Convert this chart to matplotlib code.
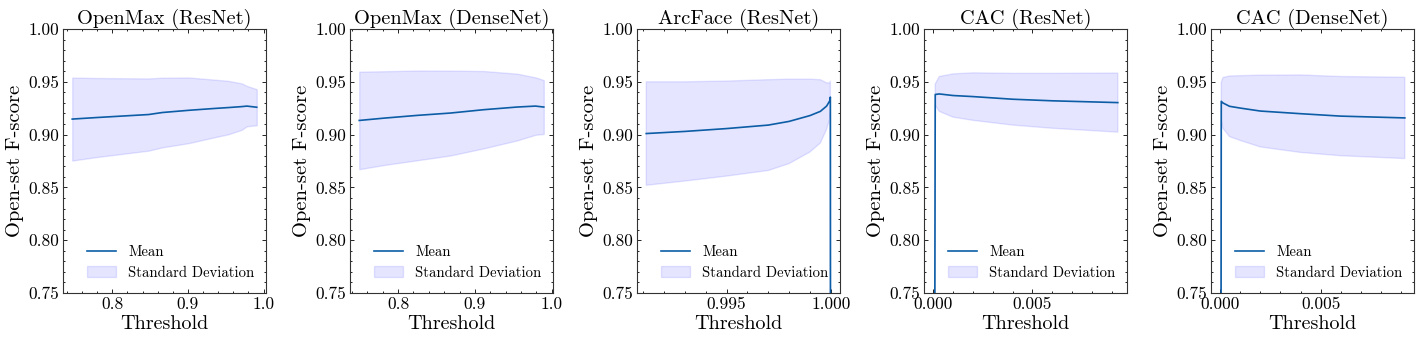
#!/usr/bin/env python3

import matplotlib

matplotlib.use("Agg")
import matplotlib.pyplot as plt
from matplotlib.ticker import AutoMinorLocator, FormatStrFormatter, MultipleLocator

OUT_FILE = "out.png"

TITLES = [
    "OpenMax (ResNet)",
    "OpenMax (DenseNet)",
    "ArcFace (ResNet)",
    "CAC (ResNet)",
    "CAC (DenseNet)",
]

# values
openmax_resnet_x = [0.747, 0.778, 0.848, 0.866, 0.901, 0.936, 0.9535, 0.971, 0.978, 0.991]
openmax_resnet_mean = [0.9147, 0.9161, 0.919, 0.9209, 0.923, 0.9248, 0.9256, 0.9265, 0.927, 0.9259]
openmax_resnet_std = [0.0393, 0.0375, 0.0342, 0.033, 0.0311, 0.0272, 0.0253, 0.022, 0.0191, 0.0171]

openmax_densenet_x = [0.7494, 0.7818, 0.825, 0.868, 0.9117, 0.955, 0.9788, 0.9896]
openmax_densenet_mean = [0.9134, 0.9156, 0.9182, 0.9204, 0.9236, 0.9261, 0.927, 0.9261]
openmax_densenet_std = [0.0462, 0.0444, 0.0425, 0.0402, 0.0366, 0.0316, 0.0272, 0.0255]

arcface_resnet_x = [0.99115, 0.993, 0.995, 0.997, 0.998, 0.999, 0.9995, 0.9998, 0.99995, 0.99998, 1.0]
arcface_resnet_mean = [0.901, 0.903, 0.9057, 0.909, 0.9125, 0.918, 0.922, 0.927, 0.932, 0.9355, 0.0]
arcface_resnet_std = [0.049, 0.047, 0.045, 0.043, 0.040, 0.0345, 0.030, 0.022, 0.017, 0.015, 0.0]

cac_resnet_x = [0.0, 0.0001, 0.0003, 0.001, 0.002, 0.004, 0.006, 0.0093]
cac_resnet_mean = [0.0, 0.938, 0.9385, 0.937, 0.936, 0.9335, 0.932, 0.9303]
cac_resnet_std = [0.0, 0.010, 0.0165, 0.0205, 0.0225, 0.0245, 0.026, 0.028]

cac_densenet_x = [0.0, 0.00005, 0.00013, 0.00046, 0.001, 0.002, 0.004, 0.006, 0.0092]
cac_densenet_mean = [0.0, 0.9315, 0.930, 0.9268, 0.9251, 0.9223, 0.9198, 0.9175, 0.9158]
cac_densenet_std = [0.0, 0.018, 0.024, 0.0287, 0.0307, 0.034, 0.0367, 0.0375, 0.0385]

SERIES = [
    (openmax_resnet_x, openmax_resnet_mean, openmax_resnet_std),
    (openmax_densenet_x, openmax_densenet_mean, openmax_densenet_std),
    (arcface_resnet_x, arcface_resnet_mean, arcface_resnet_std),
    (cac_resnet_x, cac_resnet_mean, cac_resnet_std),
    (cac_densenet_x, cac_densenet_mean, cac_densenet_std),
]
X_STEPS = [0.1, 0.1, 0.005, 0.005, 0.005]

plt.rcParams.update(
    {
        "font.family": "serif",
        "font.serif": ["cmr10"],
        "mathtext.fontset": "cm",
        "axes.formatter.use_mathtext": True,
        "axes.linewidth": 0.8,
        "axes.edgecolor": "#333333",
        "xtick.direction": "in",
        "ytick.direction": "in",
        "xtick.top": True,
        "ytick.right": True,
        "xtick.major.size": 3,
        "ytick.major.size": 3,
        "xtick.minor.size": 1.5,
        "ytick.minor.size": 1.5,
        "xtick.major.width": 0.6,
        "ytick.major.width": 0.6,
        "xtick.minor.width": 0.6,
        "ytick.minor.width": 0.6,
        "xtick.major.pad": 3,
        "ytick.major.pad": 3,
        "xtick.labelsize": 12.5,
        "ytick.labelsize": 12.5,
        "legend.frameon": False,
        "legend.fontsize": 10.6,
    }
)

fig, axes = plt.subplots(1, 5, figsize=(14.19, 3.42), dpi=100)
fig.subplots_adjust(left=0.0444, right=0.9965, bottom=0.1433, top=0.9152, wspace=0.414)

for ax, title, (x, mean, std), step in zip(axes, TITLES, SERIES, X_STEPS):
    upper = [m + s for m, s in zip(mean, std)]
    lower = [m - s for m, s in zip(mean, std)]
    ax.plot(x, mean, color="#0C5DA5", lw=1.2, label="Mean")
    ax.fill_between(x, lower, upper, color="blue", alpha=0.1, label="Standard Deviation")

    ax.set_ylim(0.75, 1.0)
    ax.yaxis.set_major_locator(MultipleLocator(0.05))
    ax.xaxis.set_major_locator(MultipleLocator(step))
    ax.xaxis.set_minor_locator(AutoMinorLocator())
    ax.yaxis.set_minor_locator(AutoMinorLocator())
    ax.yaxis.set_major_formatter(FormatStrFormatter("%.2f"))
    ax.xaxis.set_major_formatter(FormatStrFormatter("%.3f" if step == 0.005 else "%.1f"))

    ax.set_title(title, fontsize=14.7, pad=4)
    ax.set_xlabel("Threshold", fontsize=14.5, labelpad=2)
    ax.set_ylabel("Open-set F-score", fontsize=14.8, labelpad=3)
    ax.legend(loc="lower center", bbox_to_anchor=(0.53, 0.0))

fig.savefig(OUT_FILE, dpi=100)
